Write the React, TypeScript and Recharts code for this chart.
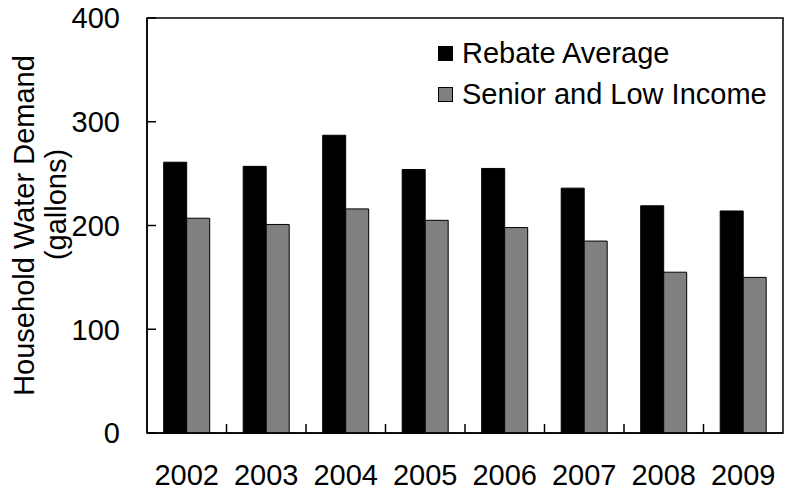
import React from 'react';
import { BarChart, Bar, XAxis, YAxis, Legend, Label, ReferenceArea } from 'recharts';

const years = ['2002', '2003', '2004', '2005', '2006', '2007', '2008', '2009'];
const rebateAverage = [261, 257, 287, 254, 255, 236, 219, 214];
const seniorLowIncome = [207, 201, 216, 205, 198, 185, 155, 150];
const yTicks = [0, 100, 200, 300, 400];

const data = years.map((year, i) => ({
  year,
  rebate: rebateAverage[i],
  senior: seniorLowIncome[i],
}));

const FONT = '"Liberation Sans", Arial, sans-serif';
const FONT_SIZE = 29;
const TICK_MARGIN = 31;

document.body.style.margin = '0';

const YearTick = (props: any) => {
  const { x, y, payload, index, visibleTicksCount, width } = props;
  const band = Number(width) / visibleTicksCount;
  const axisY = y - TICK_MARGIN;
  return (
    <g>
      <text x={x} y={y} dy="0.71em" textAnchor="middle" fontSize={FONT_SIZE} fontFamily={FONT} fill="#000">
        {payload.value}
      </text>
      {index < visibleTicksCount - 1 && (
        <line x1={x + band / 2} x2={x + band / 2} y1={axisY} y2={axisY - 9} stroke="#000" strokeWidth={1.5} />
      )}
    </g>
  );
};

const YTitle = (props: any) => {
  const { viewBox } = props;
  const cy = viewBox.y + viewBox.height / 2;
  const cy2 = cy - 21;
  return (
    <g fontSize={FONT_SIZE} fontFamily={FONT} fill="#000">
      <text x={34} y={cy} textAnchor="middle" transform={`rotate(-90, 34, ${cy})`}>
        Household Water Demand
      </text>
      <text x={66} y={cy2} textAnchor="middle" transform={`rotate(-90, 66, ${cy2})`}>
        (gallons)
      </text>
    </g>
  );
};

const legendItems = [
  { label: 'Rebate Average', color: '#000000' },
  { label: 'Senior and Low Income', color: '#808080' },
];

const ChartLegend = () => (
  <div style={{ fontFamily: FONT, fontSize: FONT_SIZE, color: '#000' }}>
    {legendItems.map((item) => (
      <div key={item.label} style={{ display: 'flex', alignItems: 'center', height: 41, lineHeight: '41px' }}>
        <span
          style={{
            display: 'inline-block',
            width: 13,
            height: 13,
            background: item.color,
            border: '1px solid #000',
            marginRight: 9,
          }}
        />
        <span style={{ whiteSpace: 'nowrap' }}>{item.label}</span>
      </div>
    ))}
  </div>
);

export default function App() {
  return (
    <BarChart
      width={785}
      height={493}
      data={data}
      margin={{ top: 18, right: 2, left: 0, bottom: 0 }}
      barCategoryGap="21%"
      barGap={0}
    >
      <XAxis
        dataKey="year"
        height={60}
        tickLine={false}
        tickSize={0}
        tickMargin={TICK_MARGIN}
        axisLine={{ stroke: '#000', strokeWidth: 1.5 }}
        tick={<YearTick />}
        interval={0}
      />
      <YAxis
        width={147}
        domain={[0, 400]}
        ticks={yTicks}
        tickSize={-9}
        tickMargin={36}
        axisLine={{ stroke: '#000', strokeWidth: 1.5 }}
        tickLine={{ stroke: '#000', strokeWidth: 1.5 }}
        tick={{ fill: '#000', fontSize: FONT_SIZE, fontFamily: FONT }}
        label={<Label content={<YTitle />} />}
      />
      <ReferenceArea y1={0} y2={400} fill="none" stroke="#000" strokeWidth={1.5} ifOverflow="visible" />
      <Legend
        layout="vertical"
        align="center"
        verticalAlign="middle"
        content={<ChartLegend />}
        wrapperStyle={{ position: 'absolute', left: 438, top: 33, width: 345 }}
      />
      <Bar dataKey="rebate" fill="#000000" stroke="#000" strokeWidth={1} isAnimationActive={false} />
      <Bar dataKey="senior" fill="#808080" stroke="#000" strokeWidth={1} isAnimationActive={false} />
    </BarChart>
  );
}
